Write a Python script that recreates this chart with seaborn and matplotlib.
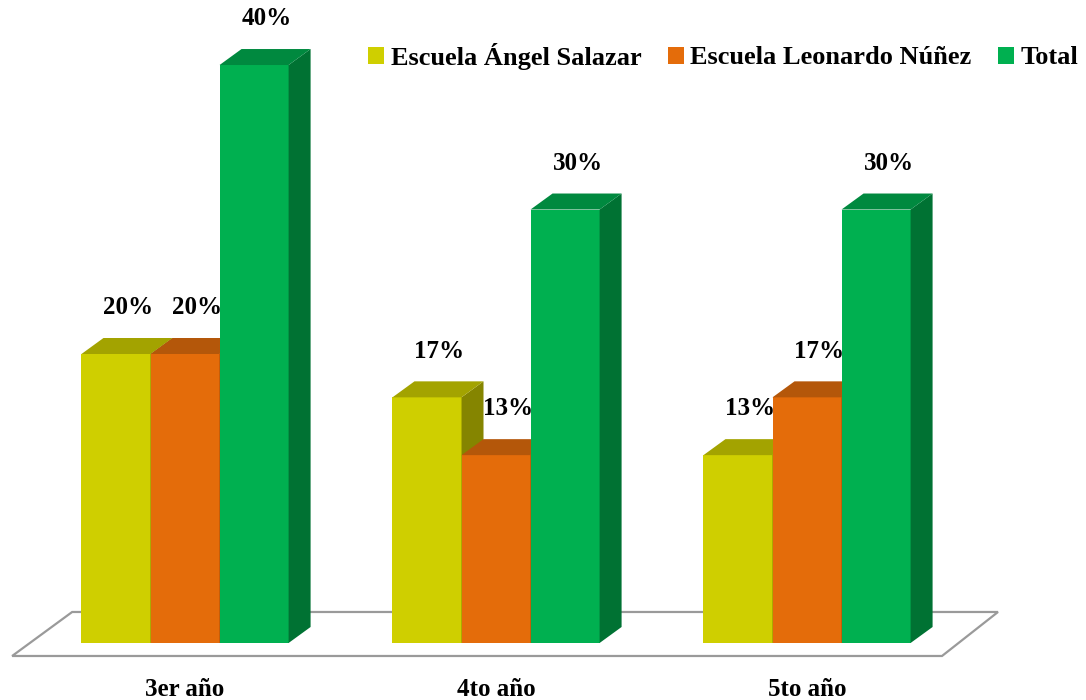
import numpy as np
import pandas as pd
import matplotlib
matplotlib.use("Agg")
import matplotlib.pyplot as plt
from matplotlib.patches import Polygon, Patch
import seaborn as sns

# Data
cursos = ["3er año", "4to año", "5to año"]
series = ["Escuela Ángel Salazar", "Escuela Leonardo Núñez", "Total"]
angel_salazar = [20, 17, 13]
leonardo_nunez = [20, 13, 17]
total = [40, 30, 30]

# Face colours: front, top and side of each series
front = ["#CFCF00", "#E46C0A", "#00B050"]
top = ["#A3A300", "#B4570A", "#00893F"]
side = ["#858500", "#9C4A08", "#007233"]

df = pd.DataFrame({
    "curso": cursos * 3,
    "serie": np.repeat(series, len(cursos)),
    "valor": angel_salazar + leonardo_nunez + total,
})

sns.set_theme(style="white")
plt.rcParams["font.family"] = ["Liberation Serif", "DejaVu Serif"]
plt.rcParams["text.color"] = "black"
plt.rcParams["xtick.color"] = "black"
plt.rcParams["xtick.labelcolor"] = "black"

fig = plt.figure(figsize=(10.86, 7), dpi=100)
ax = fig.add_axes([0, 30 / 700, 1, 670 / 700])

sns.barplot(data=df, x="curso", y="valor", hue="serie", order=cursos,
            hue_order=series, palette=front, width=0.666, saturation=1,
            gap=0, linewidth=0, legend=False, ax=ax)

# Depth of the pseudo-3D extrusion (data units)
dx, dy = 0.0707, 1.107

# Floor plane under the bars
floor = Polygon([(-0.556, -0.90), (2.434, -0.90), (2.614, 2.145), (-0.363, 2.145)],
                closed=True, facecolor="white", edgecolor="#9A9A9A",
                linewidth=1.6, zorder=0.5)
ax.add_patch(floor)

# Collect bars with their series index and draw them left to right
bars = []
for k, cont in enumerate(ax.containers):
    for rect in cont:
        bars.append((rect.get_x(), k, rect))
bars.sort(key=lambda t: t[0])

for i, (x0, k, rect) in enumerate(bars):
    w = rect.get_width()
    h = rect.get_height()
    z = 2 + i * 0.1
    rect.set_zorder(z)
    top_face = Polygon([(x0, h), (x0 + dx, h + dy), (x0 + w + dx, h + dy), (x0 + w, h)],
                       closed=True, facecolor=top[k], edgecolor="none", zorder=z)
    side_face = Polygon([(x0 + w, 0), (x0 + w, h), (x0 + w + dx, h + dy), (x0 + w + dx, dy)],
                        closed=True, facecolor=side[k], edgecolor="none", zorder=z)
    ax.add_patch(side_face)
    ax.add_patch(top_face)
    ax.text(x0 + w / 2 + 0.04, h + 3.2, f"{h:.0f}%", ha="center", va="center",
            fontsize=18, fontweight="bold", color="black", zorder=10)

ax.set_xlim(-0.595, 2.897)
ax.set_ylim(-1.87, 44.5)
ax.set_xlabel("")
ax.set_ylabel("")
ax.set_yticks([])
ax.tick_params(axis="x", length=0, pad=6, labelcolor="black")
for lab in ax.get_xticklabels():
    lab.set_fontsize(18)
    lab.set_fontweight("bold")
    lab.set_color("black")
for sp in ax.spines.values():
    sp.set_visible(False)
ax.patch.set_alpha(0)

handles = [Patch(facecolor=c, edgecolor="none", label=s) for c, s in zip(front, series)]
leg = fig.legend(handles=handles, loc="center right", bbox_to_anchor=(1078 / 1086, 1 - 56 / 700),
                 ncol=3, frameon=False, prop=dict(weight="bold", size=19),
                 handlelength=0.6, handleheight=0.6, handletextpad=0.25,
                 columnspacing=1.0, borderaxespad=0, borderpad=0)
for t in leg.get_texts():
    t.set_color("black")

fig.savefig("out.png", dpi=100, facecolor="white")
